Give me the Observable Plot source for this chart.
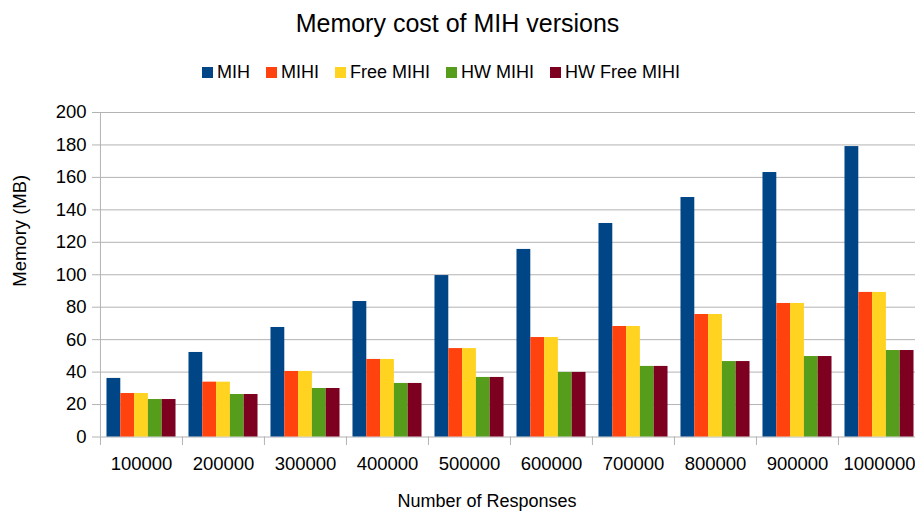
<!DOCTYPE html>
<html>
<head>
<meta charset="utf-8">
<script src="https://cdn.jsdelivr.net/npm/d3@7"></script>
<script src="https://cdn.jsdelivr.net/npm/@observablehq/plot@0.6"></script>
<style>
  body { margin: 0; background: #fff; font-family: "Liberation Sans", Arial, sans-serif; color: #000; }
  #wrap { width: 915px; height: 511px; overflow: hidden; position: relative; }
  #title { height: 46px; line-height: 46px; text-align: center; font-size: 25px; }
  #legend { height: 50px; display: flex; align-items: center; padding-left: 202px; font-size: 18px; box-sizing: border-box; padding-top: 3px; }
  .item { display: flex; align-items: center; margin-right: 16px; }
  .sw { width: 11px; height: 11px; margin-right: 4px; }
  #chart svg { display: block; }
  #xlabel { position: absolute; left: 0; top: 485px; width: 974px; height: 32px; line-height: 32px; text-align: center; font-size: 18px; }
</style>
</head>
<body>
<div id="wrap">
  <div id="title"></div>
  <div id="legend"></div>
  <div id="chart"></div>
  <div id="xlabel"></div>
</div>
<script>
const titleText = "Memory cost of MIH versions";
const xLabel = "Number of Responses";
const yLabel = "Memory (MB)";
const groups = ["100000","200000","300000","400000","500000","600000","700000","800000","900000","1000000"];
const series = ["MIH","MIHI","Free MIHI","HW MIHI","HW Free MIHI"];
const colors = ["#004586","#ff420e","#ffd320","#579d1c","#7e0021"];
const mih      = [36.1, 52.1, 67.5, 83.5, 99.5, 115.6, 131.6, 147.6, 163.0, 179.0];
const mihi     = [26.8, 33.8, 40.4, 47.8, 54.5, 61.3, 68.1, 75.5, 82.3, 89.1];
const freeMihi = [26.8, 33.8, 40.4, 47.8, 54.5, 61.3, 68.1, 75.5, 82.3, 89.1];
const hwMihi   = [23.1, 26.2, 29.9, 33.0, 36.7, 39.8, 43.5, 46.5, 49.6, 53.3];
const hwFree   = [23.1, 26.2, 29.9, 33.0, 36.7, 39.8, 43.5, 46.5, 49.6, 53.3];
const yTicks = [0, 20, 40, 60, 80, 100, 120, 140, 160, 180, 200];

const seriesValues = [mih, mihi, freeMihi, hwMihi, hwFree];
const data = groups.flatMap((g, i) => series.map((s, j) => ({group: g, series: s, value: seriesValues[j][i]})));

document.getElementById("title").textContent = titleText;
document.getElementById("xlabel").textContent = xLabel;
const legend = document.getElementById("legend");
series.forEach((s, j) => {
  const it = document.createElement("div");
  it.className = "item";
  const sw = document.createElement("div");
  sw.className = "sw";
  sw.style.background = colors[j];
  const tx = document.createElement("span");
  tx.textContent = s;
  it.appendChild(sw); it.appendChild(tx);
  legend.appendChild(it);
});

const gray = "#b3b3b3";
const chart = Plot.plot({
  width: 915,
  height: 389,
  marginTop: 16,
  marginBottom: 48.5,
  marginLeft: 99,
  marginRight: -5,
  style: {fontFamily: "'Liberation Sans', Arial, sans-serif", fontSize: "18.5px", color: "#000", background: "transparent", overflow: "hidden"},
  fx: {domain: groups, padding: 0, label: null},
  x: {domain: series, paddingInner: 0, paddingOuter: 0.47, round: false, axis: null},
  y: {domain: [0, 200]},
  color: {domain: series, range: colors},
  marks: [
    Plot.gridY(yTicks, {stroke: gray, strokeOpacity: 1}),
    Plot.axisY(yTicks, {tickSize: 8, tickPadding: 6, stroke: gray, fill: "#000", label: null, fontSize: 18.5}),
    Plot.ruleX([groups[0]], {fx: d => d, x: null, dx: -41.05, stroke: gray}),
    Plot.barY(data, {fx: "group", x: "series", y: "value", fill: "series", insetLeft: 0, insetRight: 0}),
    Plot.axisFx({anchor: "bottom", tickSize: 0, tickPadding: 20, label: null, fill: "#000", fontSize: 18.5}),
    Plot.axisFx({anchor: "bottom", tickSize: 8.5, tickFormat: () => "", label: null, dx: -41.05, stroke: gray}),
    Plot.text([yLabel], {fx: () => groups[0], frameAnchor: "left", rotate: -90, dx: -80, dy: 12, fontSize: 18.5, fill: "#000", text: d => d})
  ]
});
document.getElementById("chart").appendChild(chart);
</script>
</body>
</html>
